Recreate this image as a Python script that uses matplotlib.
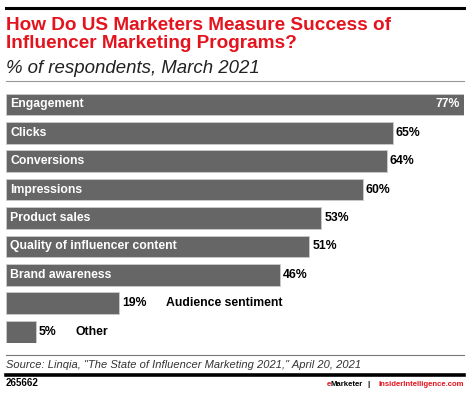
import matplotlib.pyplot as plt
from matplotlib.lines import Line2D
from matplotlib.text import Annotation

# data
categories = ["Engagement", "Clicks", "Conversions", "Impressions", "Product sales",
              "Quality of influencer content", "Brand awareness", "Audience sentiment", "Other"]
values = [77, 65, 64, 60, 53, 51, 46, 19, 5]

title = "How Do US Marketers Measure Success of\nInfluencer Marketing Programs?"
subtitle = "% of respondents, March 2021"
source = 'Source: Linqia, "The State of Influencer Marketing 2021," April 20, 2021'
chart_id = "265662"

RED = "#e4141e"
BAR = "#666666"
W, H = 470, 393

plt.rcParams['font.family'] = ['Liberation Sans', 'DejaVu Sans']

fig = plt.figure(figsize=(W / 100, H / 100), dpi=100)

def fy(py):
    return 1 - py / H

def fx(px):
    return px / W

# rules
fig.add_artist(Line2D([fx(6), fx(464)], [fy(7.5), fy(7.5)], color="black", lw=2.2))
fig.add_artist(Line2D([fx(6), fx(464)], [fy(81), fy(81)], color="#999999", lw=0.8))
fig.add_artist(Line2D([fx(6), fx(464)], [fy(355), fy(355)], color="#777777", lw=0.8))
fig.add_artist(Line2D([fx(6), fx(464)], [fy(374.6), fy(374.6)], color="black", lw=2.6))

fig.text(fx(6), fy(29.5), title.split("\n")[0], color=RED, fontsize=13.7, fontweight="bold", va="baseline")
fig.text(fx(6), fy(48.5), title.split("\n")[1], color=RED, fontsize=13.7, fontweight="bold", va="baseline")
fig.text(fx(6), fy(73), subtitle, fontsize=13.4, style="italic", va="baseline", color="#222222")

fig.text(fx(6), fy(368), source, fontsize=8.05, style="italic", va="baseline", color="#333333")
fig.text(fx(6), fy(386.5), chart_id, fontsize=7, fontweight="bold", va="baseline")

# footer brand: "e" red, "Marketer" black, separator, site in red
foot_fs = 5.6
fig.text(fx(464), fy(386.5), "InsiderIntelligence.com", fontsize=foot_fs, fontweight="bold",
         va="baseline", ha="right", color=RED)
fig.text(fx(369), fy(386.5), "|", fontsize=foot_fs, fontweight="bold", va="baseline", ha="center")
mk = fig.text(fx(363), fy(386.5), "Marketer", fontsize=foot_fs, fontweight="bold",
              va="baseline", ha="right")
fig.add_artist(Annotation("e", xy=(0, 0), xycoords=mk, ha="right", va="bottom",
                          fontsize=foot_fs, fontweight="bold", color=RED))

# bars
ax = fig.add_axes([fx(6), fy(342.5), fx(458), (342.5 - 93.5) / H])
ypos = list(range(len(categories)))
h = 0.76
ax.barh(ypos, values, height=h, color=BAR, edgecolor="#cccccc", linewidth=0.6)
ax.set_xlim(0, 77)
ax.set_ylim(len(categories) - 1 + h / 2, -h / 2)
ax.axis("off")

lab_fs = 8.8
for i, (c, v) in enumerate(zip(categories, values)):
    if v >= 40:
        ax.text(0.7, i, c, color="white", fontsize=lab_fs, fontweight="bold", va="center")
        if v >= 70:
            ax.text(v - 0.7, i, f"{v}%", color="white", fontsize=lab_fs, fontweight="bold",
                    va="center", ha="right")
        else:
            ax.text(v + 0.5, i, f"{v}%", color="black", fontsize=lab_fs, fontweight="bold", va="center")
    else:
        vt = ax.text(v + 0.5, i, f"{v}%", color="black", fontsize=lab_fs, fontweight="bold", va="center")
        ax.annotate(c, xy=(1, 0.5), xycoords=vt, xytext=(13.7, 0), textcoords="offset points",
                    color="black", fontsize=lab_fs, fontweight="bold", va="center")

fig.savefig("out.png", dpi=100)
